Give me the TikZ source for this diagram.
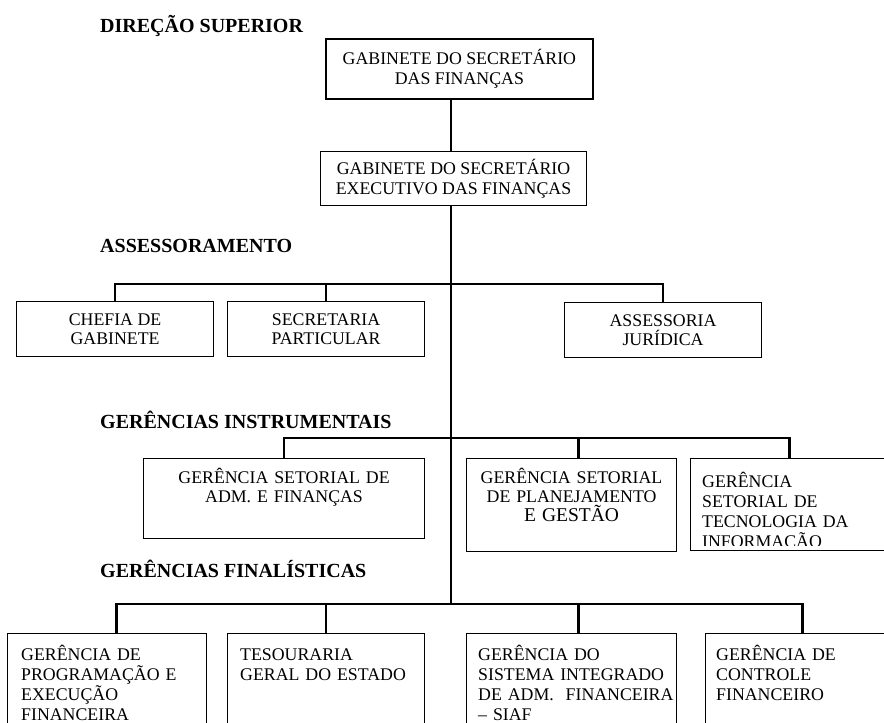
\documentclass[tikz,border=0pt]{standalone}
\usepackage{fontspec}
\setmainfont{Liberation Serif}
\usepackage{tikz}
\usetikzlibrary{positioning,calc}

\begin{document}
\begin{tikzpicture}[x=1pt, y=-1pt,
    box/.style={draw, line width=1.1pt, inner sep=0pt, anchor=north west, align=center,
        font=\fontsize{17.8}{19.5}\selectfont},
    txt/.style={inner sep=0pt, anchor=base, align=center, font=\fontsize{17.8}{19}\selectfont},
    ltxt/.style={inner sep=0pt, anchor=base west, align=left, text width=240pt,
        font=\fontsize{17.8}{20}\selectfont},
    head/.style={inner sep=0pt, anchor=base west, font=\bfseries\fontsize{20}{24}\selectfont},
    conn/.style={line width=2.6pt}]
    \useasboundingbox (0,0) rectangle (884,723);
    \clip (0,0) rectangle (884,723);

    % Headings
    \foreach \y/\name/\t in {32/dir/DIREÇÃO SUPERIOR, 252/ass/ASSESSORAMENTO,
        428/ins/GERÊNCIAS INSTRUMENTAIS, 577/fin/GERÊNCIAS FINALÍSTICAS}
        \node[head] (\name) at (100,\y) {\t};

    % Bus points on the trunk
    \coordinate (abus) at (451,284);
    \coordinate (ibus) at (451,438);
    \coordinate (fbus) at (451,604);

    % Direcao superior
    \node[box, line width=1.8pt, minimum width=267pt, minimum height=60pt] (gsf) at (325,38)
        {\fontsize{17.8}{17.3}\selectfont GABINETE DO SECRETÁRIO\\DAS FINANÇAS};
    \node[box, minimum width=266pt, minimum height=54pt] (gse) at (320,151)
        {GABINETE DO SECRETÁRIO\\EXECUTIVO DAS FINANÇAS};

    % Assessoramento
    \node[box, minimum width=197pt, minimum height=55pt] (chefia) at (16,301) {CHEFIA DE\\GABINETE};
    \node[box, minimum width=197pt, minimum height=55pt] (secret) at (227,301) {SECRETARIA\\PARTICULAR};
    \node[box, minimum width=197pt, minimum height=55pt] (assess) at (564,302) {ASSESSORIA\\JURÍDICA};

    % Gerencias instrumentais
    \node[box, minimum width=281pt, minimum height=80pt] (gsaf) at (143,458) {};
    \node[box, minimum width=210pt, minimum height=93pt] (gspg) at (466,458) {};
    \node[box, minimum width=198pt, minimum height=92pt] (gsti) at (690,458) {};
    \node[txt, text width=270pt] (gsaft) at ($(gsaf.north)+(0,25)$)
        {GERÊNCIA SETORIAL DE\\ADM. E FINANÇAS};
    \node[txt, text width=205pt] (gspgt) at ($(gspg.north)+(0,25)$)
        {GERÊNCIA SETORIAL\\DE PLANEJAMENTO\\{\fontsize{19.5}{19.5}\selectfont E GESTÃO}};
    \begin{scope}
        \clip (690,458) rectangle (888,545);
        \node[ltxt] (gstit) at ($(gsti.north west)+(12,29)$)
            {GERÊNCIA\\SETORIAL DE\\TECNOLOGIA DA\\INFORMAÇÃO};
    \end{scope}

    % Gerencias finalisticas
    \node[box, minimum width=199pt, minimum height=110pt] (gpef) at (7,633) {};
    \node[box, minimum width=197pt, minimum height=110pt] (tge) at (227,633) {};
    \node[box, minimum width=210pt, minimum height=110pt] (gsiaf) at (466,633) {};
    \node[box, minimum width=194pt, minimum height=110pt] (gcf) at (705,633) {};
    \node[ltxt] (gpeft) at ($(gpef.north west)+(14,27)$)
        {GERÊNCIA DE\\PROGRAMAÇÃO E\\EXECUÇÃO\\FINANCEIRA};
    \node[ltxt] (tget) at ($(tge.north west)+(13,27)$) {TESOURARIA\\GERAL DO ESTADO};
    \node[ltxt] (gsiaft) at ($(gsiaf.north west)+(12,27)$)
        {GERÊNCIA DO\\SISTEMA INTEGRADO\\DE ADM.\ \ FINANCEIRA\\– SIAF};
    \node[ltxt] (gcft) at ($(gcf.north west)+(11,27)$) {GERÊNCIA DE\\CONTROLE\\FINANCEIRO};

    % Connectors
    \draw[conn] (gsf.south -| abus) -- (gse.north -| abus);
    \draw[conn] (gse.south -| abus) -- (fbus);
    \draw[conn] (chefia.north) |- (abus) -| (assess.north);
    \draw[conn] (secret.north) -- (secret.north |- abus);
    \draw[conn] (gsaf.north) |- (ibus) -| (gsti.north);
    \draw[conn] ([xshift=7pt]gspg.north) -- ([xshift=7pt]gspg.north |- ibus);
    \draw[conn] ([xshift=9.5pt]gpef.north) |- (fbus) -| (gcf.north);
    \draw[conn] (tge.north) -- (tge.north |- fbus);
    \draw[conn] ([xshift=7pt]gsiaf.north) -- ([xshift=7pt]gsiaf.north |- fbus);
\end{tikzpicture}
\end{document}
